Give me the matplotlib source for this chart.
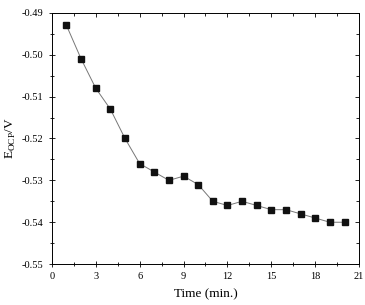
import numpy as np
import matplotlib.pyplot as plt
from matplotlib.ticker import MultipleLocator

plt.rcParams['font.family'] = ['Liberation Serif', 'DejaVu Serif']

# OCP vs time
time = [1, 2, 3, 4, 5, 6, 7, 8, 9, 10, 11, 12, 13, 14, 15, 16, 17, 18, 19, 20]
eocp = [-0.493, -0.501, -0.508, -0.513, -0.520, -0.526, -0.528, -0.530, -0.529, -0.531,
        -0.535, -0.536, -0.535, -0.536, -0.537, -0.537, -0.538, -0.539, -0.540, -0.540]

pos = [0.142, 0.134, 0.842, 0.824]
fig = plt.figure(figsize=(3.65, 3.05), dpi=100)
ax = fig.add_axes(pos)
ax.plot(time, eocp, color='#777777', lw=0.7, marker='s', ms=4,
        mfc='#111111', mec='#111111')

# overlay axes only for the inward top/right ticks
ax2 = fig.add_axes(pos, frameon=False, sharex=ax, sharey=ax)
ax2.patch.set_visible(False)

for a in (ax, ax2):
    a.set_xlim(0, 21)
    a.set_ylim(-0.55, -0.49)
    a.xaxis.set_major_locator(MultipleLocator(3))
    a.xaxis.set_minor_locator(MultipleLocator(1.5))
    a.yaxis.set_major_locator(MultipleLocator(0.01))
    a.yaxis.set_minor_locator(MultipleLocator(0.005))
ax.yaxis.set_major_formatter(plt.FuncFormatter(lambda v, p: '%.2f' % v))
ax.tick_params(which='both', direction='inout', labelsize=7.5, width=0.6,
               top=False, right=False)
ax.tick_params(which='major', length=5)
ax.tick_params(which='minor', length=3)
ax2.tick_params(which='both', direction='in', width=0.6, bottom=False, left=False,
                top=True, right=True, labelbottom=False, labelleft=False)
ax2.tick_params(which='major', length=3)
ax2.tick_params(which='minor', length=2)
for s in ax.spines.values():
    s.set_linewidth(0.7)

ax.set_xlabel('Time (min.)', fontsize=9.5, labelpad=5)
ax.set_ylabel('E$_{\\mathregular{OCP}}$/V', fontsize=9.5, labelpad=3)

fig.savefig('out.png')
